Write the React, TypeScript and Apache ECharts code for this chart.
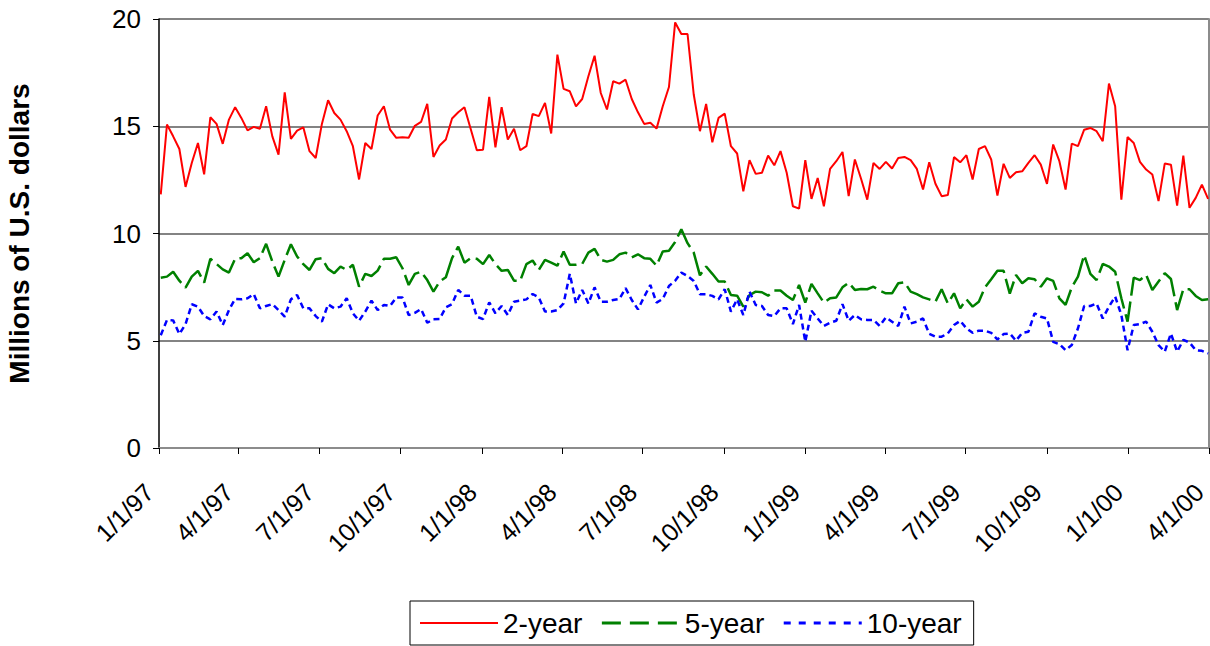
import React, { useEffect, useRef } from "react";
import * as echarts from "echarts";

// Weekly observations (Fridays) starting 1/3/97
const firstObservation = "1997-01-03";
const quarterLabels = [
  "1/1/97", "4/1/97", "7/1/97", "10/1/97",
  "1/1/98", "4/1/98", "7/1/98", "10/1/98",
  "1/1/99", "4/1/99", "7/1/99", "10/1/99",
  "1/1/00", "4/1/00",
];
const seriesNames = ["2-year", "5-year", "10-year"];

const twoYear = [
  11.82, 15.08, 14.53, 13.94, 12.17, 13.29, 14.22, 12.76, 15.42, 15.11,
  14.18, 15.31, 15.89, 15.39, 14.81, 14.97, 14.88, 15.93, 14.53, 13.68,
  16.58, 14.41, 14.8, 14.95, 13.84, 13.52, 15.11, 16.21, 15.62, 15.31,
  14.77, 14.07, 12.52, 14.22, 13.94, 15.5, 15.93, 14.84, 14.46, 14.49,
  14.46, 15.02, 15.2, 16.04, 13.57, 14.1, 14.38, 15.36, 15.65, 15.89,
  14.88, 13.88, 13.91, 16.37, 14.02, 15.89, 14.38, 14.88, 13.88, 14.07,
  15.57, 15.47, 16.09, 14.66, 18.34, 16.74, 16.63, 15.93, 16.27, 17.33,
  18.29, 16.55, 15.78, 17.1, 16.99, 17.17, 16.27, 15.65, 15.11, 15.16,
  14.89, 15.93, 16.83, 19.84, 19.3, 19.3, 16.48, 14.77, 16.04, 14.25,
  15.39, 15.59, 14.07, 13.73, 11.97, 13.42, 12.78, 12.83, 13.63, 13.18,
  13.84, 12.83, 11.27, 11.16, 13.42, 11.61, 12.59, 11.27, 13.01, 13.37,
  13.8, 11.74, 13.45, 12.55, 11.58, 13.29, 13.01, 13.34, 13.03, 13.52,
  13.57, 13.42, 13.01, 12.05, 13.32, 12.32, 11.74, 11.79, 13.56, 13.32,
  13.65, 12.52, 13.94, 14.07, 13.45, 11.77, 13.25, 12.59, 12.86, 12.9,
  13.29, 13.65, 13.21, 12.31, 14.15, 13.37, 12.05, 14.19, 14.07, 14.84,
  14.92, 14.77, 14.3, 16.99, 15.93, 11.58, 14.5, 14.22, 13.34, 12.98,
  12.75, 11.51, 13.26, 13.21, 11.3, 13.63, 11.2, 11.66, 12.28, 11.61,
];

const fiveYear = [
  7.94, 7.99, 8.22, 7.8, 7.48, 7.99, 8.26, 7.71, 8.82, 8.58,
  8.33, 8.18, 8.82, 8.85, 9.08, 8.66, 8.85, 9.52, 8.69, 7.99,
  8.77, 9.5, 8.93, 8.57, 8.3, 8.8, 8.85, 8.35, 8.15, 8.46,
  8.3, 8.54, 7.52, 8.12, 8.02, 8.27, 8.82, 8.82, 8.89, 8.38,
  7.6, 8.12, 8.22, 7.83, 7.29, 7.76, 7.96, 8.85, 9.39, 8.64,
  8.85, 8.82, 8.57, 9.0, 8.57, 8.26, 8.3, 7.8, 7.8, 8.57,
  8.74, 8.3, 8.77, 8.64, 8.5, 9.16, 8.54, 8.54, 8.58, 9.11,
  9.28, 8.77, 8.69, 8.77, 9.03, 9.11, 8.89, 9.03, 8.85, 8.82,
  8.5, 9.16, 9.2, 9.6, 10.2, 9.55, 9.11, 8.05, 8.46, 8.12,
  7.76, 7.76, 7.13, 7.1, 6.59, 7.13, 7.29, 7.26, 7.1, 7.34,
  7.34, 7.1, 6.9, 7.6, 6.78, 7.65, 7.21, 6.78, 6.98, 7.02,
  7.49, 7.71, 7.37, 7.41, 7.4, 7.52, 7.34, 7.21, 7.21, 7.68,
  7.73, 7.29, 7.17, 7.02, 6.93, 6.82, 7.4, 6.74, 7.21, 6.51,
  6.93, 6.59, 6.82, 7.49, 7.87, 8.26, 8.26, 7.2, 8.07, 7.68,
  7.91, 7.87, 7.52, 7.91, 7.79, 6.98, 6.67, 7.49, 7.99, 9.0,
  8.12, 7.83, 8.58, 8.46, 8.22, 6.98, 5.89, 7.94, 7.83, 8.07,
  7.37, 7.76, 8.15, 7.88, 6.43, 7.4, 7.4, 7.09, 6.9, 6.93,
];

const tenYear = [
  5.26, 5.97, 5.95, 5.31, 5.78, 6.7, 6.59, 6.15, 6.0, 6.36,
  5.73, 6.43, 6.95, 6.93, 6.98, 7.18, 6.51, 6.62, 6.71, 6.43,
  6.12, 6.93, 7.13, 6.51, 6.51, 6.15, 5.89, 6.7, 6.51, 6.59,
  6.98, 6.28, 5.93, 6.36, 6.87, 6.43, 6.67, 6.62, 7.02, 7.02,
  6.2, 6.3, 6.48, 5.84, 6.0, 6.01, 6.56, 6.71, 7.37, 7.1,
  7.1, 6.12, 6.01, 6.79, 6.28, 6.62, 6.2, 6.82, 6.87, 6.93,
  7.18, 7.02, 6.36, 6.36, 6.43, 6.74, 8.12, 6.74, 7.37, 6.74,
  7.49, 6.82, 6.82, 6.9, 6.95, 7.45, 6.9, 6.46, 7.05, 7.6,
  6.78, 6.95, 7.55, 7.8, 8.18, 8.02, 7.79, 7.17, 7.17, 7.09,
  6.93, 7.4, 6.36, 6.93, 6.2, 7.29, 6.67, 6.62, 6.2, 6.15,
  6.51, 6.51, 5.78, 6.67, 4.95, 6.4, 6.04, 5.69, 5.84, 5.93,
  6.71, 5.93, 6.2, 6.0, 5.97, 5.97, 5.69, 6.09, 5.89, 5.69,
  6.59, 5.81, 5.89, 6.04, 5.32, 5.19, 5.19, 5.34, 5.73, 5.93,
  5.58, 5.37, 5.47, 5.47, 5.37, 5.06, 5.31, 5.34, 5.0, 5.37,
  5.42, 6.28, 6.12, 6.04, 4.95, 4.84, 4.56, 4.8, 5.58, 6.62,
  6.62, 6.74, 6.04, 6.59, 7.06, 6.2, 4.56, 5.73, 5.78, 5.89,
  5.42, 4.8, 4.49, 5.34, 4.49, 5.04, 4.92, 4.56, 4.53, 4.41,
];

const DAY = 24 * 3600 * 1000;

function parseLabel(s: string): number {
  const [m, d, yy] = s.split("/").map(Number);
  const year = yy >= 50 ? 1900 + yy : 2000 + yy;
  return Date.UTC(year, m - 1, d);
}

export default function App() {
  const ref = useRef<HTMLDivElement>(null);

  useEffect(() => {
    if (!ref.current) return;
    const chart = echarts.init(ref.current, undefined, { renderer: "svg" });

    const start = Date.parse(firstObservation + "T00:00:00Z");
    const dates = twoYear.map((_, i) => start + i * 7 * DAY);
    const tickVals = quarterLabels.map(parseLabel);
    const labelMap = new Map<number, string>();
    tickVals.forEach((v, i) => labelMap.set(v, quarterLabels[i]));
    const xMin = tickVals[0];
    const xMax = tickVals[tickVals.length - 1];
    const font = "'Liberation Sans', Arial, sans-serif";

    const mk = (vals: number[]) => vals.map((v, i) => [dates[i], v]);

    chart.setOption({
      animation: false,
      textStyle: { fontFamily: font },
      grid: {
        left: 159,
        right: 1,
        top: 19,
        bottom: 198,
        containLabel: false,
        outerBoundsMode: "none",
      },
      xAxis: [
        {
          type: "value",
          min: xMin,
          max: xMax,
          axisLine: { show: true, lineStyle: { color: "#000", width: 1.5 } },
          axisTick: {
            show: true,
            length: 6,
            customValues: tickVals,
            lineStyle: { color: "#000", width: 1 },
          },
          axisLabel: {
            customValues: tickVals,
            rotate: 45,
            margin: 30,
            padding: [0, 14, 0, 0],
            fontSize: 25,
            color: "#000",
            fontFamily: font,
            hideOverlap: false,
            formatter: (v: number) => labelMap.get(v) ?? "",
          },
          splitLine: { show: false },
        },
        {
          type: "value",
          position: "top",
          min: xMin,
          max: xMax,
          axisLine: { show: true, lineStyle: { color: "#8c8c8c", width: 2 } },
          axisTick: { show: false },
          axisLabel: { show: false },
          splitLine: { show: false },
        },
      ],
      yAxis: [
        {
          type: "value",
          min: 0,
          max: 20,
          interval: 5,
          axisLine: { show: true, lineStyle: { color: "#000", width: 1.5 } },
          axisTick: { show: true, length: 6, lineStyle: { color: "#000" } },
          axisLabel: { fontSize: 26, margin: 18, color: "#000", fontFamily: font },
          splitLine: { show: true, lineStyle: { color: "#5a5a5a", width: 1.5 } },
          name: "Millions of U.S. dollars",
          nameLocation: "middle",
          nameGap: 126,
          nameTextStyle: {
            fontSize: 28,
            fontWeight: "bold",
            color: "#000",
            fontFamily: font,
          },
        },
        {
          type: "value",
          position: "right",
          min: 0,
          max: 20,
          axisLine: { show: true, lineStyle: { color: "#8c8c8c", width: 2 } },
          axisTick: { show: false },
          axisLabel: { show: false },
          splitLine: { show: false },
        },
      ],
      legend: {
        left: 410,
        top: 601,
        orient: "horizontal",
        padding: [8, 12, 8, 9],
        itemGap: 18,
        itemWidth: 78,
        itemHeight: 12,
        borderColor: "#000",
        borderWidth: 1,
        itemStyle: { opacity: 0 },
        textStyle: { fontSize: 28, color: "#000", fontFamily: font },
        data: [
          { name: seriesNames[0], lineStyle: { color: "#ff0000", width: 2 } },
          { name: seriesNames[1], lineStyle: { color: "#008000", width: 3, type: [19, 9] } },
          { name: seriesNames[2], lineStyle: { color: "#0000ff", width: 3, type: [7, 8] } },
        ],
      },
      series: [
        {
          type: "line",
          name: seriesNames[0],
          data: mk(twoYear),
          symbol: "none",
          lineStyle: { color: "#ff0000", width: 2 },
          itemStyle: { color: "#ff0000" },
        },
        {
          type: "line",
          name: seriesNames[1],
          data: mk(fiveYear),
          symbol: "none",
          lineStyle: { color: "#008000", width: 2.5, type: [28, 6] },
          itemStyle: { color: "#008000" },
        },
        {
          type: "line",
          name: seriesNames[2],
          data: mk(tenYear),
          symbol: "none",
          lineStyle: { color: "#0000ff", width: 2.5, type: [6, 4] },
          itemStyle: { color: "#0000ff" },
        },
      ],
    });

    return () => chart.dispose();
  }, []);

  return (
    <div
      ref={ref}
      style={{ position: "fixed", left: 0, top: 0, width: 1210, height: 646, background: "#fff" }}
    />
  );
}
